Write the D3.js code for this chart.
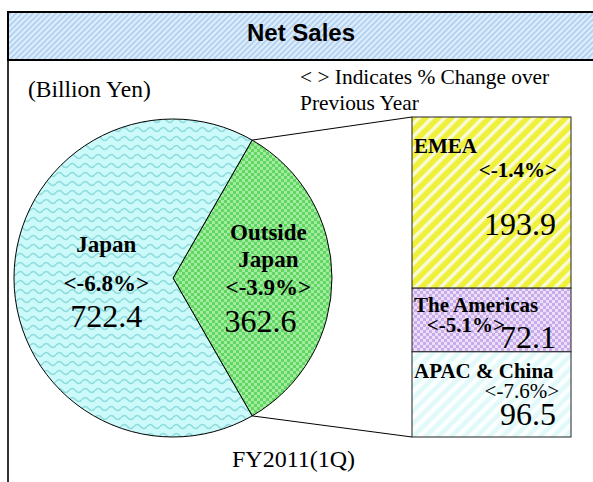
<!DOCTYPE html>
<html>
<head>
<meta charset="utf-8">
<script src="https://cdn.jsdelivr.net/npm/d3@7"></script>
<style>
  body { margin: 0; background: #fff; }
  svg { display: block; }
  .serif { font-family: "Liberation Serif", "Times New Roman", serif; fill: #000; }
</style>
</head>
<body>
<div id="chart"></div>
<script>
// data (billion yen, % change over previous year)
var title = "Net Sales";
var unitLabel = "(Billion Yen)";
var noteLines = ["< > Indicates % Change over", "Previous Year"];
var periodLabel = "FY2011(1Q)";

var regionNames = ["Japan", "Outside Japan"];
var regionSales = [722.4, 362.6];
var regionChange = [-6.8, -3.9];

var areaNames = ["EMEA", "The Americas", "APAC & China"];
var areaSales = [193.9, 72.1, 96.5];
var areaChange = [-1.4, -5.1, -7.6];

var W = 593, H = 482;
// plain hyphen as minus, like the original slide
var locale = d3.formatLocale({decimal: ".", thousands: ",", grouping: [3], currency: ["", ""], minus: "-"});
var fmt = locale.format(".1f");
var pct = function(v) { return "<" + fmt(v) + "%>"; };

var svg = d3.select("#chart").append("svg")
    .attr("width", W)
    .attr("height", H);

var defs = svg.append("defs");

function stripes(id, w, base, band, bandWidth) {
  var p = defs.append("pattern")
      .attr("id", id)
      .attr("patternUnits", "userSpaceOnUse")
      .attr("width", w)
      .attr("height", w)
      .attr("patternTransform", "rotate(45)");
  p.append("rect").attr("width", w).attr("height", w).attr("fill", base);
  p.append("rect").attr("width", bandWidth).attr("height", w).attr("fill", band);
}

function checker(id, s, c1, c2) {
  var p = defs.append("pattern")
      .attr("id", id)
      .attr("patternUnits", "userSpaceOnUse")
      .attr("width", s * 2)
      .attr("height", s * 2);
  p.append("rect").attr("width", s * 2).attr("height", s * 2).attr("fill", c1);
  p.append("rect").attr("width", s).attr("height", s).attr("fill", c2);
  p.append("rect").attr("x", s).attr("y", s).attr("width", s).attr("height", s).attr("fill", c2);
}

stripes("titleFill", 4, "#e0edfa", "#afd0f0", 1.8);
stripes("emeaFill", 9, "#eef03a", "#fafad6", 3.5);
stripes("apacFill", 9, "#e2f9f9", "#fbffff", 4.5);
checker("outsideFill", 3, "#62d662", "#a2ec9f");
checker("americasFill", 3, "#c9aaea", "#ecdff8");

var wave = defs.append("pattern")
    .attr("id", "japanFill")
    .attr("patternUnits", "userSpaceOnUse")
    .attr("width", 13)
    .attr("height", 9);
wave.append("rect").attr("width", 13).attr("height", 9).attr("fill", "#ccf9f9");
wave.append("path")
    .attr("d", "M0,4.5 Q3.25,0.5 6.5,4.5 T13,4.5")
    .attr("fill", "none")
    .attr("stroke", "#8edddd")
    .attr("stroke-width", 1.5);

var sliceFill = {"Japan": "url(#japanFill)", "Outside Japan": "url(#outsideFill)"};
var boxFill = ["url(#emeaFill)", "url(#americasFill)", "url(#apacFill)"];

// frame + title bar
svg.append("line")
    .attr("x1", 8).attr("x2", 8)
    .attr("y1", 11).attr("y2", H)
    .attr("stroke", "#333")
    .attr("stroke-width", 2);

svg.append("rect")
    .attr("x", 8).attr("y", 12)
    .attr("width", W + 10).attr("height", 48)
    .attr("fill", "url(#titleFill)")
    .attr("stroke", "#000")
    .attr("stroke-width", 2);

svg.append("text")
    .attr("x", 301).attr("y", 41)
    .attr("text-anchor", "middle")
    .style("font-family", "'Liberation Sans', Arial, sans-serif")
    .style("font-weight", "bold")
    .style("font-size", "24px")
    .text(title);

svg.append("text")
    .attr("class", "serif")
    .attr("x", 28).attr("y", 97)
    .style("font-size", "23.5px")
    .text(unitLabel);

svg.append("text")
    .attr("class", "serif")
    .attr("x", 300).attr("y", 84)
    .style("font-size", "21.4px")
    .selectAll("tspan")
    .data(noteLines)
    .enter().append("tspan")
    .attr("x", 300)
    .attr("dy", function(d, i) { return i ? 26 : 0; })
    .text(function(d) { return d; });

// pie
var cx = 173, cy = 278, R = 159;
var rows = regionNames.map(function(n, i) {
  return {name: n, value: regionSales[i], change: regionChange[i]};
});

var share = regionSales[1] / d3.sum(regionSales);
var start = Math.PI / 2 - Math.PI * share;

var pie = d3.pie()
    .sort(null)
    .value(function(d) { return d.value; })
    .startAngle(start)
    .endAngle(start + 2 * Math.PI);

var arcs = pie([rows[1], rows[0]]);

var arc = d3.arc().innerRadius(0).outerRadius(R);
var labelR = function(d) { return d.data.name === "Japan" ? R * 0.42 : R * 0.6; };
var labelArc = d3.arc().innerRadius(labelR).outerRadius(labelR);

var g = svg.append("g").attr("transform", "translate(" + cx + "," + cy + ")");

g.selectAll("path")
    .data(arcs)
    .enter().append("path")
    .attr("d", arc)
    .attr("fill", function(d) { return sliceFill[d.data.name]; })
    .attr("stroke", "#000")
    .attr("stroke-width", 1);

var sliceLabels = g.selectAll("g.lbl")
    .data(arcs)
    .enter().append("g")
    .attr("class", "lbl")
    .attr("transform", function(d) { return "translate(" + labelArc.centroid(d) + ")"; });

sliceLabels.each(function(d) {
  var el = d3.select(this);
  var one = d.data.name === "Japan";
  var nameLines = one ? ["Japan"] : ["Outside", "Japan"];
  var nameY = one ? [-26] : [-38, -11];
  nameLines.forEach(function(t, i) {
    el.append("text").attr("class", "serif")
      .attr("text-anchor", "middle")
      .attr("y", nameY[i])
      .style("font-weight", "bold").style("font-size", "23px")
      .text(t);
  });
  el.append("text").attr("class", "serif")
    .attr("text-anchor", "middle")
    .attr("y", one ? 13 : 17)
    .style("font-weight", "bold").style("font-size", "23px")
    .text(pct(d.data.change));
  el.append("text").attr("class", "serif")
    .attr("text-anchor", "middle")
    .attr("x", one ? 0 : -8)
    .attr("y", one ? 49 : 54)
    .style("font-size", "32px")
    .text(fmt(d.data.value));
});

// stacked breakdown of Outside Japan
var boxX = 412, boxW = 159;
var y = d3.scaleLinear()
    .domain([0, d3.sum(areaSales)])
    .range([117, 437]);

var ends = d3.cumsum(areaSales);
var boxes = areaNames.map(function(n, i) {
  return {name: n, value: areaSales[i], change: areaChange[i], y0: ends[i] - areaSales[i], y1: ends[i]};
});

// label placement inside each box (offset from box top, right edge of change text)
var boxLayout = [
  {name: 36, change: 60, changeX: 557, changeBold: true, value: 118},
  {name: 24, change: 44, changeX: 505, changeBold: true, value: 60},
  {name: 26, change: 46, changeX: 559, changeBold: false, value: 73}
];

// connector lines from the slice edge to the stack
var outsideArc = arcs[0];
[[outsideArc.startAngle, 0], [outsideArc.endAngle, d3.sum(areaSales)]].forEach(function(p) {
  svg.append("line")
    .attr("x1", cx + R * Math.sin(p[0]))
    .attr("y1", cy - R * Math.cos(p[0]))
    .attr("x2", boxX)
    .attr("y2", y(p[1]))
    .attr("stroke", "#000")
    .attr("stroke-width", 1);
});

var bg = svg.selectAll("g.box")
    .data(boxes)
    .enter().append("g")
    .attr("class", "box");

bg.append("rect")
    .attr("x", boxX)
    .attr("y", function(d) { return y(d.y0); })
    .attr("width", boxW)
    .attr("height", function(d) { return y(d.y1) - y(d.y0); })
    .attr("fill", function(d, i) { return boxFill[i]; })
    .attr("stroke", "#222")
    .attr("stroke-width", 1);

bg.append("text").attr("class", "serif")
    .attr("x", boxX + 2)
    .attr("y", function(d, i) { return y(d.y0) + boxLayout[i].name; })
    .style("font-weight", "bold").style("font-size", "21px")
    .text(function(d) { return d.name; });

bg.append("text").attr("class", "serif")
    .attr("x", function(d, i) { return boxLayout[i].changeX; })
    .attr("y", function(d, i) { return y(d.y0) + boxLayout[i].change; })
    .attr("text-anchor", "end")
    .style("font-weight", function(d, i) { return boxLayout[i].changeBold ? "bold" : "normal"; })
    .style("font-size", "21px")
    .text(function(d) { return pct(d.change); });

bg.append("text").attr("class", "serif")
    .attr("x", boxX + 144)
    .attr("y", function(d, i) { return y(d.y0) + boxLayout[i].value; })
    .attr("text-anchor", "end")
    .style("font-size", "32px")
    .text(function(d) { return fmt(d.value); });

svg.append("text")
    .attr("class", "serif")
    .attr("x", 232).attr("y", 467)
    .style("font-size", "24px")
    .text(periodLabel);
</script>
</body>
</html>
